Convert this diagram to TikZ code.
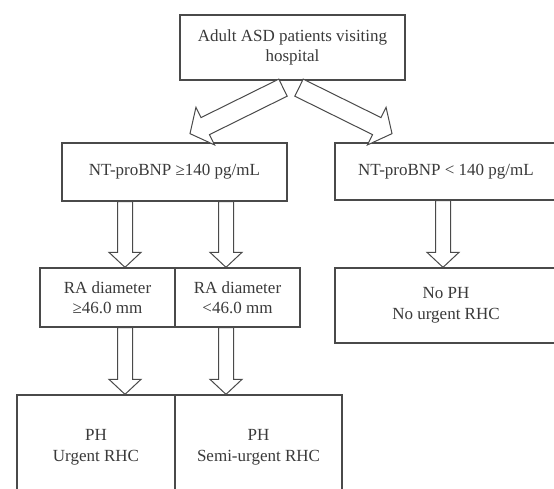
\documentclass[tikz,border=0pt]{standalone}
\usepackage{fontspec}
\setmainfont{Liberation Serif}
\usetikzlibrary{calc}
\definecolor{linec}{HTML}{4A4A4A}
\definecolor{textc}{HTML}{3A3A3A}
\tikzset{
  box/.style={draw=linec, line width=1.3pt, fill=white, rectangle, inner sep=0pt,
    align=center, text=textc, font=\fontsize{17}{20.5}\selectfont},
  barrow/.style args={#1/#2/#3}{draw=linec, line width=1pt, fill=white, line join=miter,
    to path={
      let \p1=(\tikztostart), \p2=(\tikztotarget),
          \n1={atan2(\y2-\y1,\x2-\x1)}, \n2={veclen(\x2-\x1,\y2-\y1)} in
      ($(\p1)+(\n1+90:#1/2)$)
      -- ($(\p1)+(\n1:\n2-#3)+(\n1+90:#1/2)$)
      -- ($(\p1)+(\n1:\n2-#3)+(\n1+90:#2/2)$)
      -- (\p2)
      -- ($(\p1)+(\n1:\n2-#3)+(\n1-90:#2/2)$)
      -- ($(\p1)+(\n1:\n2-#3)+(\n1-90:#1/2)$)
      -- ($(\p1)+(\n1-90:#1/2)$) -- cycle
    }},
  varrow/.style={barrow=15/32/15},
  darrow/.style={barrow=19/42/17}
}
\begin{document}
\begin{tikzpicture}[x=1pt,y=1pt]
\useasboundingbox (0,0) rectangle (554,-489);
\clip (0,0) rectangle (554,-489);
\fill[white] (0,0) rectangle (554,-489);
% boxes
\node[box, minimum width=225, minimum height=65] (top) at (292.5,-47.5) {Adult ASD patients visiting\\hospital};
\node[box, minimum width=225, minimum height=58] (ml) at (174.5,-172) {NT-proBNP ≥140 pg/mL};
\node[box, minimum width=222, minimum height=57] (mr) at (446,-171.5) {NT-proBNP < 140 pg/mL};
\node[box, minimum width=135, minimum height=59] (ra1) at (107.5,-297.5) {RA diameter\\≥46.0 mm};
\node[box, minimum width=125, minimum height=59] (ra2) at (237.5,-297.5) {RA diameter\\<46.0 mm};
\node[box, minimum width=222, minimum height=75] (noph) at (446,-305.5) {No PH\\No urgent RHC};
\node[box, minimum width=158, minimum height=105] (ph1) at (96,-447.5) {PH\\Urgent RHC};
\node[box, minimum width=167, minimum height=105] (ph2) at (258.5,-447.5) {PH\\Semi-urgent RHC};
% connector end points
\path (top.south) ++(-9.5,-7) coordinate (dl0);
\path (top.south) ++(6.5,-7) coordinate (dr0);
\path (top.south) ++(-102.5,-53) coordinate (dl1);
\path (top.south) ++(99.5,-53) coordinate (dr1);
\path (ml.south) ++(-49.5,0) coordinate (a1);
\path (ml.south) ++(51.5,0) coordinate (a2);
\path (mr.south) ++(-3,0) coordinate (a3);
% connectors
\draw[darrow] (dl0) to (dl1);
\draw[darrow] (dr0) to (dr1);
\draw[varrow] (a1) to (a1 |- ra1.north);
\draw[varrow] (a2) to (a2 |- ra2.north);
\draw[varrow] (a3) to (a3 |- noph.north);
\draw[varrow] (a1 |- ra1.south) to (a1 |- ph1.north);
\draw[varrow] (a2 |- ra2.south) to (a2 |- ph2.north);
\end{tikzpicture}
\end{document}
